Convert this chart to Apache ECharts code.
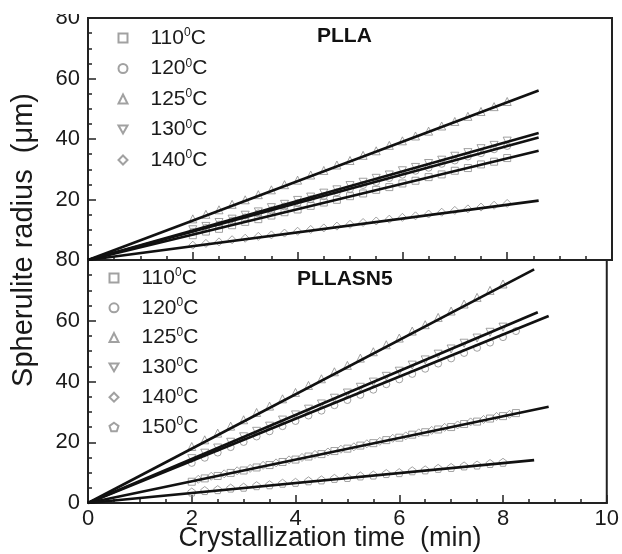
<!DOCTYPE html>
<html>
<head>
<meta charset="utf-8">
<script src="https://cdn.jsdelivr.net/npm/echarts@6/dist/echarts.min.js"></script>
<style>
html, body { margin: 0; padding: 0; background: #fff; }
#chart { width: 622px; height: 554px; }
</style>
</head>
<body>
<div id="chart"></div>
<script>
// measurement times (min)
var tA = [2.0, 2.25, 2.5, 2.75, 3.0, 3.25, 3.5, 3.75, 4.0, 4.25, 4.5, 4.75, 5.0, 5.25, 5.5, 5.75, 6.0, 6.25, 6.5, 6.75, 7.0, 7.25, 7.5, 7.75, 8.0];
var tB = [2.0, 2.25, 2.5, 2.75, 3.0, 3.25, 3.5, 3.75, 4.0, 4.25, 4.5, 4.75, 5.0, 5.25, 5.5, 5.75, 6.0, 6.25, 6.5, 6.75, 7.0, 7.25, 7.5, 7.75, 8.0, 8.25];
var tC = [2.125, 2.375, 2.625, 2.875, 3.125, 3.375, 3.625, 3.875, 4.125, 4.375, 4.625, 4.875, 5.125, 5.375, 5.625, 5.875, 6.125, 6.375, 6.625, 6.875, 7.125, 7.375, 7.625, 7.875, 8.125];

// PLLA radius (um)
var plla110 = [8.2, 9.4, 10.3, 11.5, 12.6, 13.5, 14.7, 15.8, 16.7, 17.9, 19.0, 19.9, 21.1, 22.0, 23.2, 24.1, 25.3, 26.2, 27.4, 28.3, 29.5, 30.4, 31.6, 32.5, 33.7];
var plla120 = [9.3, 10.6, 11.7, 13.0, 14.1, 15.4, 16.4, 17.7, 18.8, 20.1, 21.1, 22.4, 23.5, 24.8, 25.8, 27.1, 28.2, 29.5, 30.5, 31.8, 32.9, 34.2, 35.3, 36.6, 37.7];
var plla125 = [13.6, 15.1, 16.6, 18.4, 19.9, 21.6, 23.2, 24.9, 26.4, 28.1, 29.6, 31.4, 32.9, 34.6, 36.1, 37.9, 39.4, 41.0, 42.6, 44.3, 45.8, 47.5, 49.1, 50.7, 52.4];
var plla130 = [10.0, 11.1, 12.4, 13.5, 14.8, 15.9, 17.3, 18.4, 19.7, 20.8, 22.1, 23.2, 24.6, 25.7, 27.0, 28.1, 29.5, 30.6, 31.9, 33.0, 34.3, 35.5, 36.8, 37.9, 39.3];
var plla140 = [4.9, 5.5, 6.0, 6.7, 7.2, 7.8, 8.3, 8.9, 9.5, 10.1, 10.6, 11.2, 11.8, 12.4, 12.9, 13.5, 14.1, 14.6, 15.2, 15.8, 16.4, 16.9, 17.5, 18.1, 18.7];

// PLLASN5 radius (um)
var sn110 = [7.0, 8.1, 8.9, 9.9, 10.7, 11.7, 12.5, 13.5, 14.3, 15.3, 16.1, 17.1, 17.9, 18.9, 19.7, 20.7, 21.5, 22.5, 23.3, 24.2, 25.0, 26.0, 26.8, 27.8, 28.6, 29.6];
var sn120 = [13.2, 14.9, 16.6, 18.4, 20.1, 21.9, 23.6, 25.3, 27.0, 28.8, 30.4, 32.2, 33.9, 35.6, 37.3, 39.1, 40.7, 42.5, 44.2, 45.9, 47.6, 49.4, 51.1, 52.8, 54.6, 56.6];
var sn125 = [18.6, 20.8, 23.0, 25.3, 27.4, 29.8, 31.9, 34.3, 36.4, 38.7, 40.9, 43.2, 45.3, 47.7, 49.8, 52.1, 54.3, 56.6, 58.7, 61.1, 63.2, 65.5, 67.7, 70.0, 72.1];
var sn130 = [14.6, 16.4, 18.1, 20.0, 21.8, 23.6, 25.3, 27.3, 29.0, 30.9, 32.6, 34.5, 36.2, 38.1, 39.8, 41.7, 43.4, 45.4, 47.1, 49.0, 50.7, 52.6, 54.3, 56.2, 57.9];
var sn140 = [7.8, 8.8, 9.6, 10.6, 11.4, 12.4, 13.2, 14.2, 15.0, 16.0, 16.8, 17.7, 18.5, 19.5, 20.3, 21.3, 22.1, 23.1, 23.9, 24.9, 25.7, 26.7, 27.5, 28.5, 29.2];
var sn150 = [3.6, 4.1, 4.4, 4.9, 5.2, 5.7, 6.0, 6.5, 6.8, 7.3, 7.6, 8.1, 8.4, 8.9, 9.2, 9.7, 10.0, 10.6, 10.9, 11.4, 11.7, 12.2, 12.5, 13.0, 13.4];

// linear fits through origin: end point of each fitted line
var pllaFitEndX = [8.6, 8.6, 8.6, 8.6, 8.6];
var pllaFitEndY = [36.1, 40.5, 56.0, 42.0, 19.6];
var snFitEndX = [8.88, 8.88, 8.6, 8.67, 8.6];
var snFitEndY = [31.7, 61.6, 76.9, 62.8, 14.1];

var FONT = 'Liberation Sans';
var MARK = '#8a8a8a';
var downTri = 'path://M0,0L10,0L5,8.66Z';
var pentagon = 'path://M5,0L10,3.63L8.09,9.51L1.91,9.51L0,3.63Z';

function zip(xs, ys) {
  return ys.map(function (y, i) { return [xs[i], y]; });
}

function scatter(name, t, vals, symbol, size, idx) {
  return {
    name: name,
    type: 'scatter',
    xAxisIndex: idx,
    yAxisIndex: idx,
    symbol: symbol,
    symbolSize: size,
    itemStyle: { color: 'rgba(0,0,0,0)', borderColor: MARK, borderWidth: 1 },
    data: zip(t, vals),
    z: 2
  };
}

function fitLines(prefix, ex, ey, idx) {
  return ex.map(function (x, i) {
    return {
      name: prefix + i,
      type: 'line',
      xAxisIndex: idx,
      yAxisIndex: idx,
      showSymbol: false,
      symbol: 'none',
      lineStyle: { color: '#111', width: 2.7 },
      data: [[0, 0], [x, ey[i]]],
      z: 3,
      silent: true
    };
  });
}

function legendName(name) {
  return '{g|}' + name.split(' ')[1] + '{s|0}C';
}

var legendText = {
  fontFamily: FONT,
  fontSize: 21,
  color: '#1a1a1a',
  lineHeight: 22,
  rich: {
    g: { width: 18 },
    s: { fontSize: 12, lineHeight: 12, verticalAlign: 'top', fontFamily: FONT, color: '#1a1a1a' }
  }
};

function xAxis(idx, showLabel) {
  return {
    gridIndex: idx,
    type: 'value',
    min: 0, max: 10, interval: 2,
    splitLine: { show: false },
    axisLine: { show: true, onZero: false, lineStyle: { color: '#222', width: 2 } },
    axisTick: { show: true, inside: true, length: 8, lineStyle: { color: '#222', width: 1.5 } },
    minorTick: { show: true, splitNumber: 4, length: 4, lineStyle: { color: '#222', width: 1.5 } },
    axisLabel: {
      show: showLabel, margin: 5, fontFamily: FONT, fontSize: 22, color: '#1a1a1a',
      showMinLabel: true, showMaxLabel: true
    }
  };
}

function yAxis(idx, hideZero) {
  return {
    gridIndex: idx,
    type: 'value',
    min: 0, max: 80, interval: 20,
    splitLine: { show: false },
    axisLine: { show: true, onZero: false, lineStyle: { color: '#222', width: 2 } },
    axisTick: { show: true, inside: true, length: 8, lineStyle: { color: '#222', width: 1.5 } },
    minorTick: { show: true, splitNumber: 4, length: 4, lineStyle: { color: '#222', width: 1.5 } },
    axisLabel: {
      margin: 8, fontFamily: FONT, fontSize: 22, color: '#1a1a1a',
      showMinLabel: true, showMaxLabel: true,
      formatter: function (v) { return (hideZero && v === 0) ? '' : String(v); }
    }
  };
}

var chart = echarts.init(document.getElementById('chart'), null, { renderer: 'canvas' });

var series = [
  scatter('PLLA 110', tA, plla110, 'rect', 7, 0),
  scatter('PLLA 120', tA, plla120, 'circle', 7, 0),
  scatter('PLLA 125', tA, plla125, 'triangle', 8, 0),
  scatter('PLLA 130', tA, plla130, downTri, 8, 0),
  scatter('PLLA 140', tA, plla140, 'diamond', 8, 0),
  scatter('SN5 110', tB, sn110, 'rect', 7, 1),
  scatter('SN5 120', tB, sn120, 'circle', 7, 1),
  scatter('SN5 125', tA, sn125, 'triangle', 8, 1),
  scatter('SN5 130', tA, sn130, downTri, 8, 1),
  scatter('SN5 140', tC, sn140, 'diamond', 8, 1),
  scatter('SN5 150', tA, sn150, pentagon, 8, 1)
].concat(fitLines('fitA', pllaFitEndX, pllaFitEndY, 0))
 .concat(fitLines('fitB', snFitEndX, snFitEndY, 1));

chart.setOption({
  animation: false,
  backgroundColor: '#fff',
  title: [
    { text: 'PLLA', left: 317, top: 26, padding: 0,
      textStyle: { fontFamily: FONT, fontSize: 21, fontWeight: 'bold', color: '#111' } },
    { text: 'PLLASN5', left: 297, top: 269, padding: 0,
      textStyle: { fontFamily: FONT, fontSize: 21, fontWeight: 'bold', color: '#111' } }
  ],
  legend: [
    {
      orient: 'vertical', left: 117.5, top: 27, padding: 0, itemGap: 8.5,
      itemWidth: 9, itemHeight: 9, selectedMode: false,
      data: ['PLLA 110', 'PLLA 120', 'PLLA 125', 'PLLA 130', 'PLLA 140'],
      formatter: legendName, textStyle: legendText
    },
    {
      orient: 'vertical', left: 108.5, top: 267, padding: 0, itemGap: 7.8,
      itemWidth: 9, itemHeight: 9, selectedMode: false,
      data: ['SN5 110', 'SN5 120', 'SN5 125', 'SN5 130', 'SN5 140', 'SN5 150'],
      formatter: legendName, textStyle: legendText
    }
  ],
  grid: [
    { left: 88, right: 10, top: 18, height: 242, show: true, borderColor: '#222', borderWidth: 2, backgroundColor: 'transparent' },
    { left: 88, right: 10, top: 260, height: 243, show: true, borderColor: '#222', borderWidth: 2, backgroundColor: 'transparent' }
  ],
  xAxis: [xAxis(0, false), xAxis(1, true)],
  yAxis: [yAxis(0, true), yAxis(1, false)],
  series: series,
  graphic: [
    { type: 'rect', left: 0, top: 0, shape: { width: 86, height: 14 }, style: { fill: '#fff' }, z: 100 },
    { type: 'text', x: 24, y: 240, rotation: Math.PI / 2,
      style: { text: 'Spherulite radius  (\u03bcm)', fontFamily: FONT, fontSize: 29, fill: '#1a1a1a', align: 'center', verticalAlign: 'middle' } },
    { type: 'text', x: 330, y: 539,
      style: { text: 'Crystallization time  (min)', fontFamily: FONT, fontSize: 27, fill: '#1a1a1a', align: 'center', verticalAlign: 'middle' } }
  ]
});
</script>
</body>
</html>
